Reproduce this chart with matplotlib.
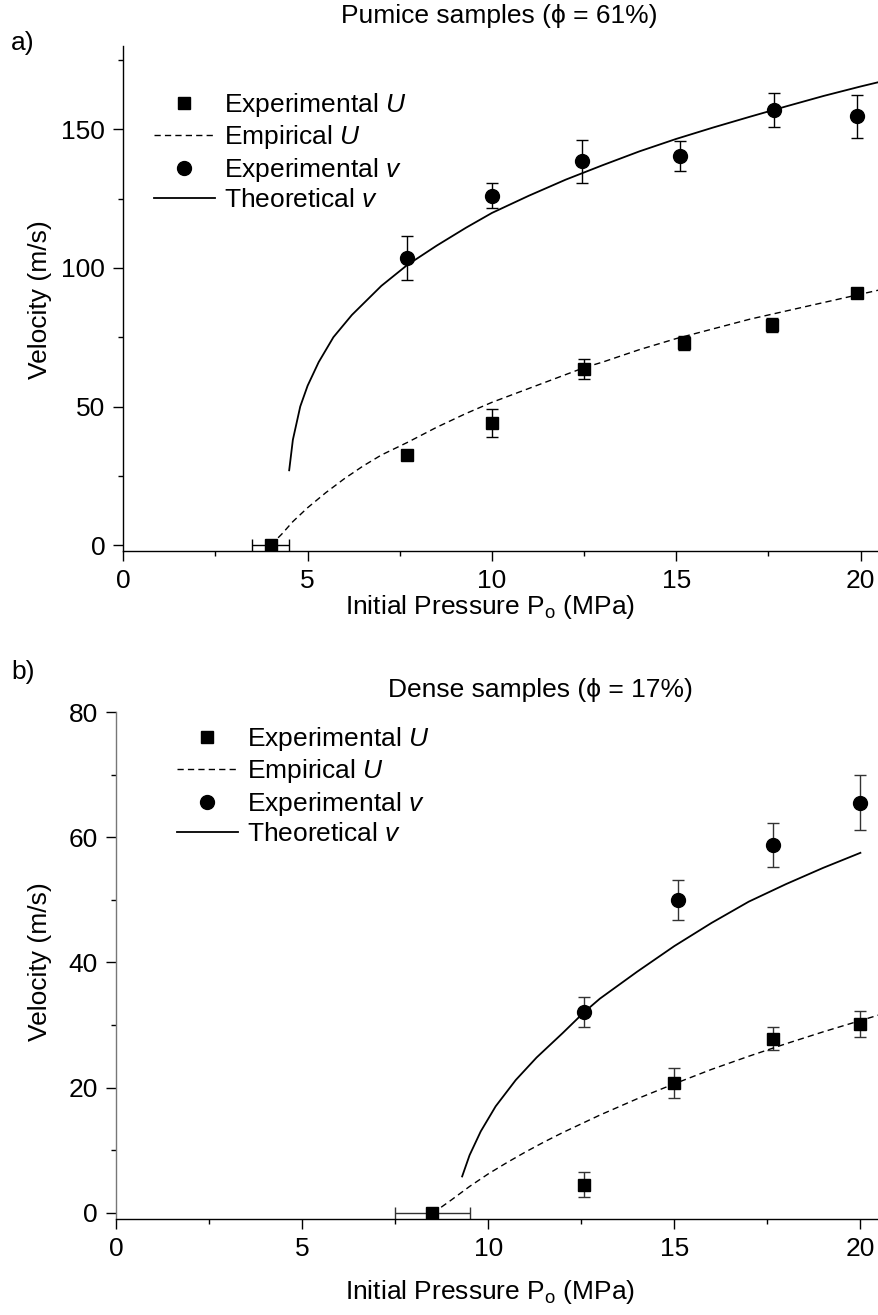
import matplotlib
matplotlib.use("Agg")
import matplotlib.pyplot as plt
from matplotlib.ticker import MultipleLocator

plt.rcParams['font.family'] = ['Liberation Sans', 'DejaVu Sans']
plt.rcParams['mathtext.fontset'] = 'custom'
plt.rcParams['mathtext.rm'] = 'Liberation Sans'
plt.rcParams['mathtext.it'] = 'Liberation Sans:italic'

# ---- panel a: pumice samples ----
a_U_p = [4.0, 7.7, 10.0, 12.5, 15.2, 17.6, 19.9]
a_U = [0, 32.5, 44, 63.5, 73, 79.5, 91]
a_U_yerr = [0, 0, 5, 3.5, 2.5, 2.5, 1.5]
a_U_xerr = [0.5, 0, 0, 0, 0, 0, 0]

a_v_p = [7.7, 10.0, 12.45, 15.1, 17.65, 19.9]
a_v = [103.5, 126, 138.4, 140.4, 156.8, 154.6]
a_v_yerr = [8, 4.5, 7.7, 5.5, 6.1, 7.6]

a_emp_p = [4.0, 4.3, 4.6, 5.0, 5.5, 6.0, 6.5, 7.0, 7.7, 8.5, 9.3, 10.0, 11.0,
           12.0, 12.5, 13.0, 14.0, 15.0, 16.0, 17.0, 18.0, 19.0, 20.0, 20.5]
a_emp_U = [0, 4, 8.5, 13.5, 19, 24, 28.5, 32.5, 37, 42.5, 47.5, 51.5, 56.5,
           61.5, 64, 66, 70.5, 74.5, 78, 81.5, 84.5, 87.5, 90.5, 92]

a_th_p = [4.5, 4.6, 4.8, 5.0, 5.3, 5.7, 6.2, 7.0, 7.7, 8.5, 9.3, 10.0, 11.0,
          12.0, 13.0, 14.0, 15.0, 16.0, 17.0, 18.0, 19.0, 20.0, 20.5]
a_th_v = [27, 38, 50, 57.5, 66, 75, 83, 93.5, 101, 108, 114.5, 119.8, 126,
          131.8, 137, 142, 146.5, 150.6, 154.5, 158.3, 162, 165.4, 167]

# ---- panel b: dense samples ----
b_U_p = [8.5, 12.57, 15.0, 17.64, 20.0]
b_U = [0, 4.5, 20.8, 27.8, 30.2]
b_U_yerr = [0, 2.0, 2.4, 1.8, 2.1]
b_U_xerr = [1.0, 0, 0, 0, 0]

b_v_p = [12.57, 15.1, 17.65, 20.0]
b_v = [32.1, 50.0, 58.8, 65.5]
b_v_yerr = [2.4, 3.2, 3.5, 4.4]

b_emp_p = [8.5, 8.6, 9.0, 9.5, 10.0, 10.5, 11.0, 11.5, 12.0, 12.5, 13.0, 14.0,
           15.0, 16.0, 17.0, 18.0, 19.0, 20.0, 20.5]
b_emp_U = [0, 0.3, 2.0, 4.2, 6.2, 8.0, 9.7, 11.3, 12.8, 14.2, 15.6, 18.2,
           20.6, 22.9, 25.0, 27.0, 28.9, 30.7, 31.6]

b_th_p = [9.3, 9.5, 9.8, 10.2, 10.74, 11.3, 12.0, 12.57, 13.0, 14.0, 15.0,
          16.0, 17.0, 18.0, 19.0, 20.0]
b_th_v = [5.8, 9.2, 13.0, 17.0, 21.2, 24.8, 28.7, 32.0, 34.2, 38.5, 42.6,
          46.3, 49.7, 52.5, 55.1, 57.5]

labels = ['Experimental $\\mathit{U}$', 'Empirical $\\mathit{U}$',
          'Experimental $\\mathit{v}$', 'Theoretical $\\mathit{v}$']

W, H = 879, 1315
FS = 19
fig = plt.figure(figsize=(W / 100, H / 100), dpi=100)


def fx(px):
    return px / W


def fy(py):
    return 1 - py / H


def draw_panel(ax, U_p, U, U_yerr, U_xerr, v_p, v, v_yerr, emp_p, emp_U,
               th_p, th_v, ecol, spine_col):
    ax.errorbar(U_p, U, yerr=U_yerr, xerr=U_xerr, fmt='none', ecolor=ecol,
                elinewidth=1, capsize=4, capthick=1, zorder=2)
    ax.errorbar(v_p, v, yerr=v_yerr, fmt='none', ecolor=ecol,
                elinewidth=1, capsize=4, capthick=1, zorder=2)
    h1, = ax.plot(U_p, U, 's', color='black', markersize=8.5, zorder=3,
                  linestyle='none')
    h2, = ax.plot(emp_p, emp_U, color='black', lw=1.0,
                  dashes=(4.5, 3), zorder=2)
    h3, = ax.plot(v_p, v, 'o', color='black', markersize=10, zorder=3,
                  linestyle='none')
    h4, = ax.plot(th_p, th_v, color='black', lw=1.3, zorder=2)
    for s in ['top', 'right']:
        ax.spines[s].set_visible(False)
    ax.spines['bottom'].set_linewidth(1.0)
    ax.spines['left'].set_linewidth(1.0)
    ax.spines['left'].set_color(spine_col)
    ax.set_xlim(0, 20.5)
    ax.xaxis.set_major_locator(MultipleLocator(5))
    ax.xaxis.set_minor_locator(MultipleLocator(2.5))
    ax.tick_params(which='major', direction='out', length=7, width=1,
                   labelsize=FS, pad=6)
    ax.tick_params(which='minor', direction='out', length=3.5, width=1)
    return [h1, h2, h3, h4]


leg_kw = dict(loc='upper left', frameon=False, fontsize=FS,
              handlelength=2.3, handletextpad=0.34, labelspacing=0.17,
              borderaxespad=0, borderpad=0)

ax1 = fig.add_axes([fx(123.3), fy(550.7), 1 - fx(123.3), (550.7 - 46) / H])
hs = draw_panel(ax1, a_U_p, a_U, a_U_yerr, a_U_xerr, a_v_p, a_v, a_v_yerr,
                a_emp_p, a_emp_U, a_th_p, a_th_v, 'black', 'black')
ax1.set_ylim(-2, 180)
ax1.yaxis.set_major_locator(MultipleLocator(50))
ax1.yaxis.set_minor_locator(MultipleLocator(25))
ax1.legend(hs, labels, bbox_to_anchor=(fx(154), fy(91)),
           bbox_transform=fig.transFigure, **leg_kw)

ax2 = fig.add_axes([fx(116), fy(1219), 1 - fx(116), (1219 - 712) / H])
hs = draw_panel(ax2, b_U_p, b_U, b_U_yerr, b_U_xerr, b_v_p, b_v, b_v_yerr,
                b_emp_p, b_emp_U, b_th_p, b_th_v, '#333333', '#777777')
ax2.set_ylim(-1, 80)
ax2.yaxis.set_major_locator(MultipleLocator(20))
ax2.yaxis.set_minor_locator(MultipleLocator(10))
ax2.legend(hs, labels, bbox_to_anchor=(fx(177), fy(725)),
           bbox_transform=fig.transFigure, **leg_kw)

# titles, panel letters and axis labels
fig.text(fx(499), fy(16), 'Pumice samples (ϕ = 61%)', ha='center',
         va='center', fontsize=FS)
fig.text(fx(540), fy(690), 'Dense samples (ϕ = 17%)', ha='center',
         va='center', fontsize=FS)
fig.text(fx(23), fy(43), 'a)', ha='center', va='center', fontsize=FS)
fig.text(fx(23), fy(672), 'b)', ha='center', va='center', fontsize=FS)

xlab = 'Initial Pressure P$_\\mathrm{o}$ (MPa)'
fig.text(fx(490), fy(607), xlab, ha='center', va='center', fontsize=FS)
fig.text(fx(490), fy(1292), xlab, ha='center', va='center', fontsize=FS)
fig.text(fx(40), fy(300), 'Velocity (m/s)', rotation=90, ha='center',
         va='center', fontsize=FS)
fig.text(fx(40), fy(962), 'Velocity (m/s)', rotation=90, ha='center',
         va='center', fontsize=FS)

fig.savefig('out.png', dpi=100)
